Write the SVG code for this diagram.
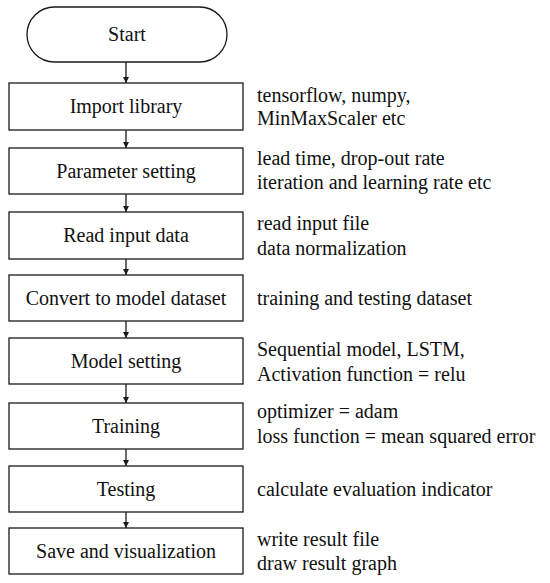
<svg xmlns="http://www.w3.org/2000/svg" width="550" height="583" viewBox="0 0 550 583">
<style>
.box{fill:#fff;stroke:#1a1a1a;stroke-width:1.3}
.t{font-family:'Liberation Serif','Times New Roman',serif;font-size:20px;fill:#111}
.c{text-anchor:middle}
.ln{stroke:#1a1a1a;stroke-width:1.3;fill:none}
</style>
<defs>
<marker id="ah" viewBox="0 0 10 10" refX="10" refY="5" markerWidth="6" markerHeight="7" markerUnits="userSpaceOnUse" orient="auto">
<path d="M0,0 L10,5 L0,10 Z" fill="#1a1a1a"/>
</marker>
</defs>
<rect width="550" height="583" fill="#fff"/>
<g id="connectors">
<line class="ln" x1="126" y1="62" x2="126" y2="83" marker-end="url(#ah)"/>
<line class="ln" x1="126" y1="130" x2="126" y2="148" marker-end="url(#ah)"/>
<line class="ln" x1="126" y1="194" x2="126" y2="212" marker-end="url(#ah)"/>
<line class="ln" x1="126" y1="259" x2="126" y2="275" marker-end="url(#ah)"/>
<line class="ln" x1="126" y1="321" x2="126" y2="338" marker-end="url(#ah)"/>
<line class="ln" x1="126" y1="384" x2="126" y2="403" marker-end="url(#ah)"/>
<line class="ln" x1="126" y1="449" x2="126" y2="466" marker-end="url(#ah)"/>
<line class="ln" x1="126" y1="512" x2="126" y2="528" marker-end="url(#ah)"/>
</g>
<g id="start">
<rect class="box" x="27" y="7" width="200" height="55" rx="27.5"/>
<text class="t c" x="127" y="41">Start</text>
</g>
<g id="import">
<rect class="box" x="9" y="83" width="234" height="47"/>
<text class="t c" x="126" y="113">Import library</text>
<text class="t" x="257" y="102">tensorflow, numpy,</text>
<text class="t" x="257" y="125">MinMaxScaler  etc</text>
</g>
<g id="param">
<rect class="box" x="9" y="148" width="234" height="46"/>
<text class="t c" x="126" y="178">Parameter setting</text>
<text class="t" x="257" y="165">lead time, drop-out rate</text>
<text class="t" x="257" y="189">iteration and learning rate etc</text>
</g>
<g id="read">
<rect class="box" x="9" y="212" width="234" height="47"/>
<text class="t c" x="126" y="242">Read input data</text>
<text class="t" x="257" y="230">read input  file</text>
<text class="t" x="257" y="255">data normalization</text>
</g>
<g id="convert">
<rect class="box" x="9" y="275" width="234" height="46"/>
<text class="t c" x="126" y="305">Convert to model dataset</text>
<text class="t" x="257" y="305">training  and testing  dataset</text>
</g>
<g id="model">
<rect class="box" x="9" y="338" width="234" height="46"/>
<text class="t c" x="126" y="368">Model setting</text>
<text class="t" x="257" y="356">Sequential model, LSTM,</text>
<text class="t" x="257" y="381">Activation function = relu</text>
</g>
<g id="training">
<rect class="box" x="9" y="403" width="234" height="46"/>
<text class="t c" x="126" y="433">Training</text>
<text class="t" x="257" y="418">optimizer  = adam</text>
<text class="t" x="257" y="443">loss  function = mean squared error</text>
</g>
<g id="testing">
<rect class="box" x="9" y="466" width="234" height="46"/>
<text class="t c" x="126" y="496">Testing</text>
<text class="t" x="257" y="496">calculate evaluation indicator</text>
</g>
<g id="save">
<rect class="box" x="9" y="528" width="234" height="46"/>
<text class="t c" x="126" y="558">Save and visualization</text>
<text class="t" x="257" y="546">write result  file</text>
<text class="t" x="257" y="570">draw result graph</text>
</g>
</svg>
